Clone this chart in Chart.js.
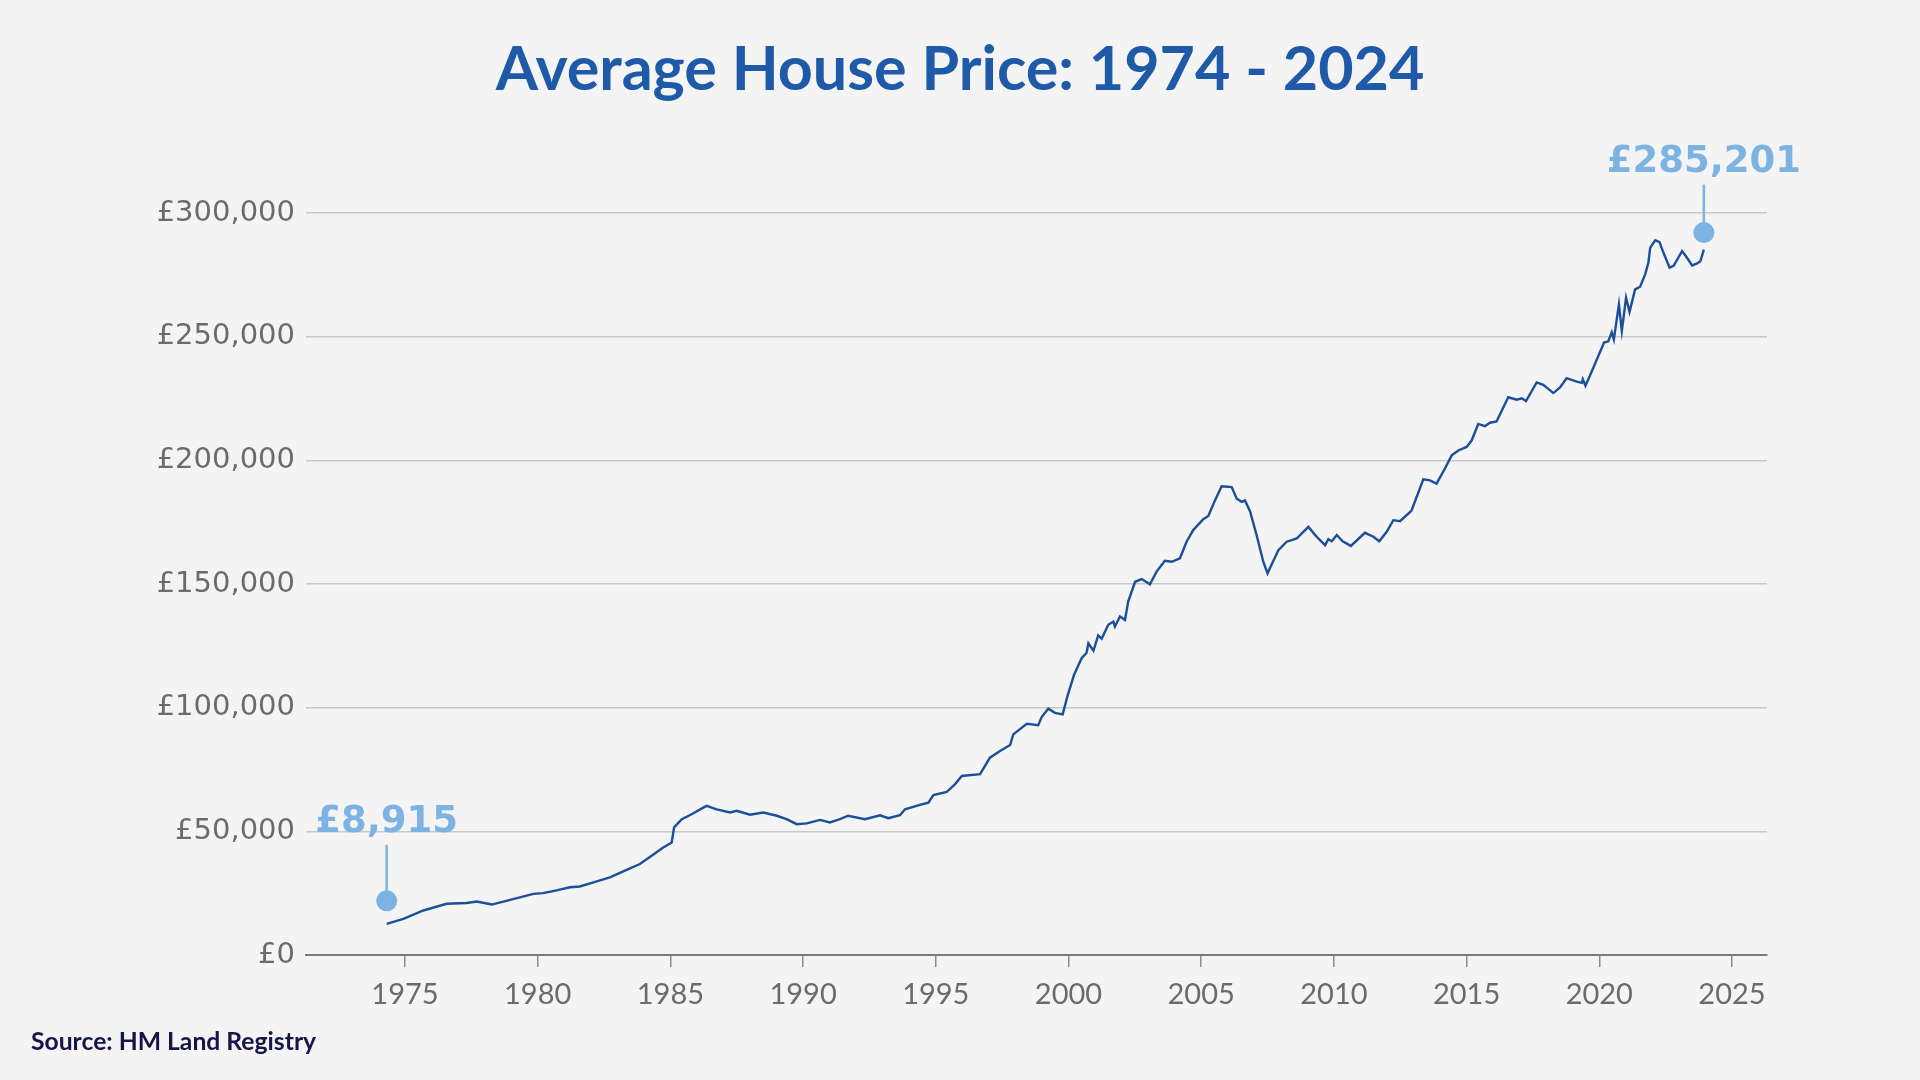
<!DOCTYPE html>
<html>
<head>
<meta charset="utf-8">
<script src="https://cdn.jsdelivr.net/npm/chart.js@4.4.1/dist/chart.umd.min.js"></script>
<style>
  html, body { margin: 0; padding: 0; background: #f4f4f4; }
  #wrap { position: relative; width: 1920px; height: 1080px; background: #f4f4f4; }
  #title { position: absolute; left: 0; width: 1920px; top: 31px; text-align: center;
           font-family: Lato, "Open Sans", sans-serif; font-weight: 700; font-size: 61px;
           color: #1f5aa8; line-height: 72px; }
  #source { position: absolute; left: 31px; top: 1026px; font-family: Lato, sans-serif;
            font-weight: 700; font-size: 24.7px; color: #14164a; }
  #chartBox { position: absolute; left: 0; top: 0; width: 1920px; height: 1080px; }
</style>
</head>
<body>
<div id="wrap">
  <div id="chartBox"><canvas id="c"></canvas></div>
  <div id="title">Average House Price: 1974 - 2024</div>
  <div id="source">Source: HM Land Registry</div>
</div>
<script>
// ---- data ----
const years = [
  1974.31,1974.94,1975.69,1976.57,1977.32,1977.70,1978.27,1978.96,1979.84,1980.20,
  1980.71,1981.22,1981.59,1982.10,1982.72,1983.35,1983.85,1984.36,1984.73,1985.05,
  1985.14,1985.43,1985.80,1986.24,1986.37,1986.74,1987.25,1987.50,1988.00,1988.50,
  1989.01,1989.38,1989.76,1990.14,1990.64,1991.01,1991.39,1991.70,1992.33,1992.90,
  1993.21,1993.65,1993.84,1994.40,1994.72,1994.91,1995.41,1995.72,1995.98,1996.67,
  1997.04,1997.42,1997.80,1997.92,1998.43,1998.86,1998.99,1999.24,1999.49,1999.78,
  1999.97,2000.21,2000.50,2000.68,2000.75,2000.94,2001.12,2001.25,2001.50,2001.69,
  2001.75,2001.94,2002.13,2002.25,2002.51,2002.76,2003.07,2003.32,2003.63,2003.89,
  2004.20,2004.45,2004.70,2005.08,2005.27,2005.52,2005.77,2006.15,2006.34,2006.53,
  2006.65,2006.84,2007.09,2007.34,2007.50,2007.91,2008.22,2008.41,2008.60,2008.85,
  2009.04,2009.35,2009.67,2009.79,2009.92,2010.11,2010.33,2010.64,2011.17,2011.49,
  2011.71,2011.99,2012.24,2012.49,2012.81,2012.93,2013.37,2013.62,2013.87,2014.18,
  2014.44,2014.69,2015.00,2015.19,2015.44,2015.69,2015.88,2016.13,2016.57,2016.89,
  2017.08,2017.24,2017.64,2017.89,2018.27,2018.52,2018.77,2019.15,2019.34,2019.38,
  2019.48,2019.72,2020.18,2020.34,2020.47,2020.55,2020.74,2020.85,2021.01,2021.14,
  2021.35,2021.54,2021.73,2021.85,2021.92,2022.11,2022.27,2022.42,2022.65,2022.80,
  2023.12,2023.28,2023.50,2023.69,2023.81,2023.94
];
const prices = [
  12600,14600,18000,20700,21000,21600,20400,22300,24700,25000,
  26100,27400,27700,29400,31400,34400,36800,40600,43500,45500,
  51600,54900,56900,59600,60300,58900,57600,58300,56700,57600,
  56300,54900,52900,53200,54600,53600,54900,56300,54900,56500,
  55300,56500,58900,60700,61600,64700,65900,69000,72400,73100,
  79800,82500,84900,89200,93500,92900,96200,99600,97900,97300,
  105000,113300,120100,122100,126000,123000,129200,127900,133500,134800,
  132800,136900,135500,142900,150900,152000,149900,155000,159400,159000,
  160400,167100,171800,176200,177500,183800,189500,189200,184500,183200,
  183800,179400,169700,159000,154300,163700,167100,167700,168400,171100,
  173100,169100,165700,168100,167300,169800,167300,165400,170700,169100,
  167300,171100,175800,175400,178500,179800,192300,191900,190600,196600,
  202000,204000,205400,208000,214700,213800,215200,215700,225500,224500,
  225100,224000,231500,230500,227200,229500,233200,231800,231300,232800,
  230200,236000,247600,248100,251800,248800,263100,252300,265800,260000,
  269100,270200,275200,279900,286000,289000,288200,283900,277900,278600,
  284600,282300,278800,279600,280500,285201
];
const xTickYears = [1975,1980,1985,1990,1995,2000,2005,2010,2015,2020,2025];
const yTickValues = [0,50000,100000,150000,200000,250000,300000];
const calloutLabels = ['£8,915', '£285,201'];
const calloutIndex = [0, prices.length - 1];

const points = years.map((y, i) => ({ x: y, y: prices[i] }));

const calloutPlugin = {
  id: 'callouts',
  afterDraw(chart, args, opts) {
    const ctx = chart.ctx;
    const xs = chart.scales.x, ys = chart.scales.y;
    ctx.save();
    calloutIndex.forEach((idx, k) => {
      const px = xs.getPixelForValue(years[idx]);
      const py = ys.getPixelForValue(prices[idx]);
      const dotY = py - opts.dotOffset[k];
      const lineTop = dotY - opts.stem[k];
      ctx.strokeStyle = opts.color;
      ctx.lineWidth = 2.5;
      ctx.beginPath();
      ctx.moveTo(px, dotY);
      ctx.lineTo(px, lineTop);
      ctx.stroke();
      ctx.fillStyle = opts.color;
      ctx.beginPath();
      ctx.arc(px, dotY, 10.5, 0, Math.PI * 2);
      ctx.fill();
      ctx.font = 'bold 37px "DejaVu Sans", sans-serif';
      ctx.textAlign = 'center';
      ctx.textBaseline = 'alphabetic';
      ctx.fillText(calloutLabels[k], px, lineTop - 13);
    });
    ctx.restore();
  }
};

new Chart(document.getElementById('c'), {
  type: 'line',
  data: {
    datasets: [{
      data: points,
      borderColor: '#1c4f99',
      borderWidth: 2.4,
      pointRadius: 0,
      tension: 0,
      fill: false
    }]
  },
  options: {
    responsive: true,
    maintainAspectRatio: false,
    animation: false,
    events: [],
    layout: { padding: { left: 0, right: 153, top: 213, bottom: 65 } },
    plugins: {
      legend: { display: false },
      tooltip: { enabled: false },
      callouts: { color: '#7cb3e3', dotOffset: [23, 17], stem: [56, 48] }
    },
    scales: {
      x: {
        type: 'linear',
        min: 1971.27,
        max: 2026.32,
        afterFit(scale) { scale.height = 60; },
        afterBuildTicks(scale) { scale.ticks = xTickYears.map(v => ({ value: v })); },
        ticks: {
          includeBounds: false,
          color: '#6b6b6b',
          padding: 10,
          font: { family: 'Lato, "Open Sans", sans-serif', size: 29 },
          callback: v => String(v),
          maxRotation: 0
        },
        grid: { drawOnChartArea: false, drawTicks: true, tickLength: 12, color: '#8a8a8a', lineWidth: 1.5 },
        border: { display: true, color: '#7a7a7a', width: 2 }
      },
      y: {
        min: 0,
        max: 300000,
        afterFit(scale) { scale.width = 306; },
        afterBuildTicks(scale) { scale.ticks = yTickValues.map(v => ({ value: v })); },
        ticks: {
          color: '#6b6b6b',
          padding: 11,
          font: { family: '"DejaVu Sans", sans-serif', size: 29 },
          callback: v => '£' + Number(v).toLocaleString('en-GB')
        },
        grid: { drawTicks: false, color: '#c8c8c8', lineWidth: 1.5 },
        border: { display: false }
      }
    }
  },
  plugins: [calloutPlugin]
});
</script>
</body>
</html>
